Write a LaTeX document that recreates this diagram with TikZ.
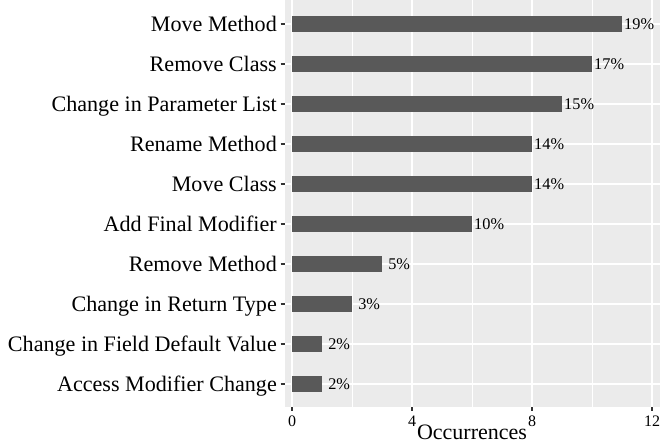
\documentclass[tikz,border=0pt]{standalone}
\usepackage{fontspec}
\setmainfont{Liberation Serif}
\definecolor{panelgray}{HTML}{EBEBEB}
\definecolor{bargray}{HTML}{595959}
\definecolor{tickgray}{HTML}{333333}
\tikzset{
  catlabel/.style={anchor=base east, inner sep=0pt, font=\fontsize{22.1}{24}\selectfont},
  pctlabel/.style={anchor=base west, inner sep=0pt, font=\fontsize{16.3}{18}\selectfont},
  ticklabel/.style={anchor=base, inner sep=0pt, font=\fontsize{16}{18}\selectfont},
  tickmark/.style={tickgray, line width=1.1pt}
}

\begin{document}
\begin{tikzpicture}[x=1pt,y=-1pt]
	\def\u{30}
	\useasboundingbox (0,0) rectangle (660,446);
	\fill[panelgray] (285,0) rectangle (660,407);
	% grid
	\foreach \v in {2,6,10} \draw[white, line width=0.6pt] (292+\v*\u,0) -- (292+\v*\u,407);
	\foreach \v in {0,4,8,12} \draw[white, line width=1.3pt] (292+\v*\u,0) -- (292+\v*\u,407);
	\foreach \i in {1,...,10} \draw[white, line width=1.3pt] (285,{24+40*(\i-1)}) -- (660,{24+40*(\i-1)});
	% bars
	\foreach \i/\n/\name/\pct in {1/11/Move Method/19\%, 2/10/Remove Class/17\%, 3/9/Change in Parameter List/15\%, 4/8/Rename Method/14\%, 5/8/Move Class/14\%, 6/6/Add Final Modifier/10\%, 7/3/Remove Method/\ 5\%, 8/2/Change in Return Type/\ 3\%, 9/1/Change in Field Default Value/\ 2\%, 10/1/Access Modifier Change/\ 2\%}{
		\fill[bargray] (292,{16+40*(\i-1)}) rectangle ({292+\n*\u},{32+40*(\i-1)});
		\node[pctlabel] (pct\i) at ({294+\n*\u},{29.5+40*(\i-1)}) {\pct};
		\draw[tickmark] (280.5,{24+40*(\i-1)}) -- (285,{24+40*(\i-1)});
		\node[catlabel] (lab\i) at (277,{31.6+40*(\i-1)}) {\name};
	}
	% x axis
	\foreach \v in {0,4,8,12}{
		\draw[tickmark] (292+\v*\u,407) -- (292+\v*\u,411);
		\node[ticklabel] (tick\v) at (292+\v*\u,426) {\v};
	}
	\node[anchor=base, inner sep=0pt, font=\fontsize{22}{24}\selectfont] (xtitle) at (472,439) {Occurrences};
\end{tikzpicture}
\end{document}
